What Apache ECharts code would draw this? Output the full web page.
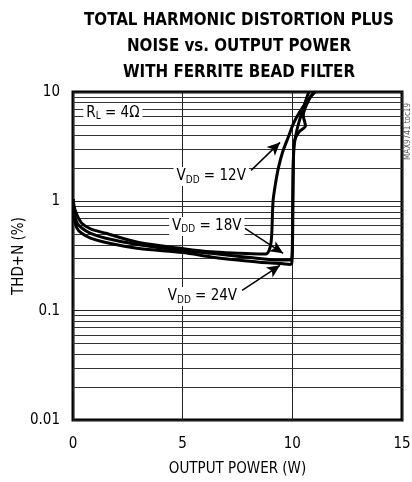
<!DOCTYPE html>
<html lang="en" style="height: 100%">
<head>
  <meta charset="utf-8">
</head>
<body style="height: 100%; margin: 0">
  <div id="container" style="width: 412px; height: 482px"></div>

  <script type="text/javascript" src="https://cdn.jsdelivr.net/npm/echarts@6/dist/echarts.min.js"></script>

  <script type="text/javascript">
    // values
    var power12 = [0.02, 0.05, 0.18, 0.4, 0.8, 1.5, 3, 5, 6.3, 7.5, 8.5, 8.8, 8.95, 9.03, 9.07, 9.12, 9.22, 9.36, 9.55, 9.8, 10.1, 10.6, 11.0];
    var thd12 = [1.05, 0.9, 0.75, 0.63, 0.56, 0.51, 0.42, 0.37, 0.345, 0.335, 0.33, 0.33, 0.36, 0.42, 0.55, 1.0, 1.4, 2.0, 2.8, 3.8, 5.4, 7.9, 10];

    var power18 = [0.02, 0.05, 0.18, 0.4, 0.8, 1.5, 3, 5, 6.3, 7.5, 8.5, 9.5, 9.9, 10.0, 10.02, 10.04, 10.08, 10.2, 10.35, 10.6, 10.75];
    var thd18 = [0.95, 0.8, 0.64, 0.57, 0.51, 0.46, 0.40, 0.355, 0.335, 0.315, 0.30, 0.29, 0.29, 0.35, 0.8, 2.0, 3.2, 4.4, 5.7, 8.2, 10];

    var power24 = [0.02, 0.05, 0.18, 0.4, 0.8, 1.5, 3, 5, 6.3, 7.5, 8.5, 9.5, 9.9, 9.97, 10.0, 10.02, 10.05, 10.1, 10.3, 10.6, 10.5, 10.8, 11.05];
    var thd24 = [0.88, 0.72, 0.57, 0.51, 0.46, 0.42, 0.37, 0.34, 0.31, 0.29, 0.277, 0.27, 0.265, 0.27, 0.35, 1.0, 2.5, 3.6, 4.3, 4.9, 6.1, 8.8, 10];

    var yTickLabels = ['0.01', '0.1', '1', '10'];
    var xTickLabels = ['0', '5', '10', '15'];

    var narrow = "'Liberation Sans Narrow', 'DejaVu Sans Condensed', sans-serif";

    function zip(xs, ys) {
      return xs.map(function (x, i) { return [x, ys[i]]; });
    }

    // minor log grid lines 2..9 in each decade
    var minorLines = [];
    [0.01, 0.1, 1].forEach(function (d) {
      for (var k = 2; k <= 9; k++) minorLines.push({ yAxis: +(k * d).toPrecision(2) });
    });

    var rich = {
      n: { fontSize: 15, fontFamily: narrow, color: '#000' },
      s: { fontSize: 10, fontFamily: narrow, color: '#000', padding: [7, 0, 0, 0] }
    };

    function note(coord, text) {
      return {
        coord: coord,
        symbol: 'circle',
        symbolSize: 1,
        itemStyle: { color: 'rgba(0,0,0,0)' },
        label: {
          show: true,
          position: 'inside',
          formatter: text,
          backgroundColor: '#fff',
          padding: [1, 3],
          rich: rich
        }
      };
    }

    function arrow(from, to) {
      return [{ coord: from }, { coord: to }];
    }

    var dom = document.getElementById('container');
    var myChart = echarts.init(dom, null, { renderer: 'canvas' });

    var lineStyle = { color: '#000', width: 3 };

    var option = {
      animation: false,
      title: {
        text: 'TOTAL HARMONIC DISTORTION PLUS\nNOISE vs. OUTPUT POWER\nWITH FERRITE BEAD FILTER',
        left: 234,
        top: 3,
        textAlign: 'center',
        textStyle: {
          fontFamily: narrow,
          fontWeight: 'bold',
          fontSize: 16.8,
          lineHeight: 26,
          color: '#000'
        }
      },
      grid: {
        left: 73,
        right: 10,
        top: 92,
        bottom: 62,
        outerBoundsMode: 'none',
        show: true,
        borderColor: '#000',
        borderWidth: 3
      },
      xAxis: {
        type: 'value',
        min: 0,
        max: 15,
        interval: 5,
        name: 'OUTPUT POWER (W)',
        nameLocation: 'middle',
        nameGap: 42,
        nameMoveOverlap: false,
        nameTextStyle: { fontFamily: narrow, fontSize: 15, color: '#000' },
        axisLine: { show: false },
        axisTick: { show: false },
        axisLabel: {
          margin: 17,
          fontFamily: narrow,
          fontSize: 15,
          color: '#000',
          formatter: function (v) { return xTickLabels[Math.round(v / 5)]; }
        },
        splitLine: { show: true, lineStyle: { color: '#222', width: 1 } }
      },
      yAxis: {
        type: 'log',
        logBase: 10,
        min: 0.01,
        max: 10,
        name: 'THD+N (%)',
        nameLocation: 'middle',
        nameGap: 46,
        nameMoveOverlap: false,
        nameTextStyle: { fontFamily: narrow, fontSize: 15, color: '#000' },
        axisLine: { show: false },
        axisTick: { show: false },
        axisLabel: {
          margin: 13,
          fontFamily: narrow,
          fontSize: 15,
          color: '#000',
          formatter: function (v) { return yTickLabels[Math.round(Math.log10(v)) + 2]; }
        },
        splitLine: { show: true, lineStyle: { color: '#222', width: 1 } }
      },
      series: [
        {
          name: 'grid',
          type: 'line',
          data: [],
          silent: true,
          markLine: {
            silent: true,
            symbol: ['none', 'none'],
            label: { show: false },
            lineStyle: { color: '#333', width: 1, type: 'solid' },
            data: minorLines
          }
        },
        {
          name: 'VDD = 12V',
          type: 'line',
          data: zip(power12, thd12),
          showSymbol: false,
          smooth: 0.3,
          lineStyle: lineStyle,
          z: 5
        },
        {
          name: 'VDD = 18V',
          type: 'line',
          data: zip(power18, thd18),
          showSymbol: false,
          smooth: 0.3,
          lineStyle: lineStyle,
          z: 5
        },
        {
          name: 'VDD = 24V',
          type: 'line',
          data: zip(power24, thd24),
          showSymbol: false,
          smooth: 0.3,
          lineStyle: lineStyle,
          z: 5
        },
        {
          name: 'notes',
          type: 'line',
          data: [],
          silent: true,
          z: 10,
          markPoint: {
            silent: true,
            data: [
              note([1.82, 6.4], '{n|R}{s|L}{n| = 4Ω}'),
              note([6.3, 1.69], '{n|V}{s|DD}{n| = 12V}'),
              note([6.1, 0.59], '{n|V}{s|DD}{n| = 18V}'),
              note([5.9, 0.135], '{n|V}{s|DD}{n| = 24V}')
            ]
          },
          markLine: {
            silent: true,
            symbol: ['none', 'arrow'],
            symbolSize: [9, 13],
            label: { show: false },
            lineStyle: { color: '#000', width: 1.5, type: 'solid' },
            data: [
              arrow([8.12, 1.92], [9.44, 3.46]),
              arrow([7.84, 0.566], [9.58, 0.335]),
              arrow([7.71, 0.153], [9.44, 0.26])
            ]
          }
        }
      ],
      graphic: [
        {
          type: 'text',
          x: 404,
          y: 160,
          rotation: Math.PI / 2,
          style: {
            text: 'MAX9741 toc19',
            fontFamily: narrow,
            fontSize: 8,
            fill: '#555'
          }
        }
      ]
    };

    myChart.setOption(option);

    window.addEventListener('resize', myChart.resize);
  </script>
</body>
</html>
